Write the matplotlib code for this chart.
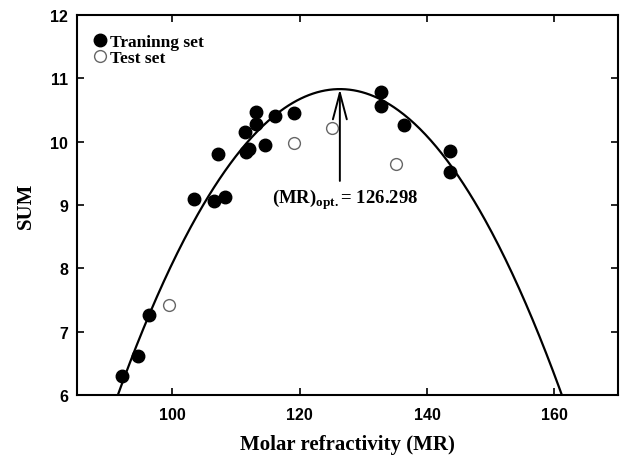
import numpy as np
import matplotlib
matplotlib.use('Agg')
import matplotlib.pyplot as plt

# Training set (filled circles)
mr_train = [92.1, 94.6, 96.25, 103.4, 106.6, 108.3, 107.1, 111.4, 111.6, 112.0,
            113.2, 113.1, 114.6, 116.1, 119.1, 132.8, 132.8, 136.4, 143.6, 143.6]
sum_train = [6.30, 6.62, 7.26, 9.09, 9.07, 9.12, 9.80, 10.16, 9.84, 9.88,
             10.47, 10.28, 9.95, 10.41, 10.45, 10.79, 10.57, 10.27, 9.85, 9.52]

# Test set (open circles)
mr_test = [99.5, 119.1, 125.0, 135.1]
sum_test = [7.42, 9.98, 10.21, 9.65]

# fitted parabola: SUM = sum_max - k*(MR - MR_opt)^2
mr_opt = 126.298
sum_max = 10.83
k = 0.00397

serif = 'Liberation Serif'
sans = 'Liberation Sans'
plt.rcParams['mathtext.fontset'] = 'custom'
plt.rcParams['mathtext.rm'] = 'Liberation Serif:bold'
plt.rcParams['mathtext.bf'] = 'Liberation Serif:bold'

fig = plt.figure(figsize=(6.24, 4.64), dpi=100)
ax = fig.add_axes([0.1234, 0.1466, 0.8670, 0.8189])

xc = np.linspace(85, 170, 400)
yc = sum_max - k * (xc - mr_opt) ** 2
ax.plot(xc, yc, color='black', lw=1.6)

ax.plot(mr_train, sum_train, 'o', ms=9, color='black', label='Traninng set')
ax.plot(mr_test, sum_test, 'o', ms=8.5, mfc='white', mec='#666666', mew=1.0,
        label='Test set')

ax.annotate('', xy=(mr_opt, sum_max), xytext=(mr_opt, 9.38),
            arrowprops=dict(arrowstyle='->,head_length=1.9,head_width=0.5',
                            lw=1.4, color='black', shrinkA=0, shrinkB=0,
                            mutation_scale=10))
ax.text(115.6, 9.03, r'(MR)$_{\mathbf{opt.}}$= 126.298', fontsize=13.5,
        fontfamily=serif, fontweight='bold', va='baseline')

ax.set_xlim(85, 170)
ax.set_ylim(6, 12)
ax.set_xticks([100, 120, 140, 160])
ax.set_yticks([6, 7, 8, 9, 10, 11, 12])
ax.tick_params(direction='in', length=5, width=1.2, top=True, right=True,
               labelsize=11.5)
ax.tick_params(axis='x', pad=8.5)
ax.tick_params(axis='y', pad=6.5)
for lab in ax.get_xticklabels() + ax.get_yticklabels():
    lab.set_fontfamily(sans)
    lab.set_fontweight('bold')
for s in ax.spines.values():
    s.set_linewidth(1.5)

ax.set_xlabel('Molar refractivity (MR)', fontsize=15, fontfamily=serif,
              fontweight='bold', labelpad=9)
ax.set_ylabel('SUM', fontsize=15, fontfamily=serif, fontweight='bold',
              labelpad=10)

ax.legend(loc='upper left', frameon=False, handletextpad=0.05,
          borderaxespad=0.35, labelspacing=0.0, handlelength=1.1,
          bbox_to_anchor=(0.0, 0.985),
          prop=dict(family=serif, weight='bold', size=12.5))

fig.savefig('out.png', dpi=100)
